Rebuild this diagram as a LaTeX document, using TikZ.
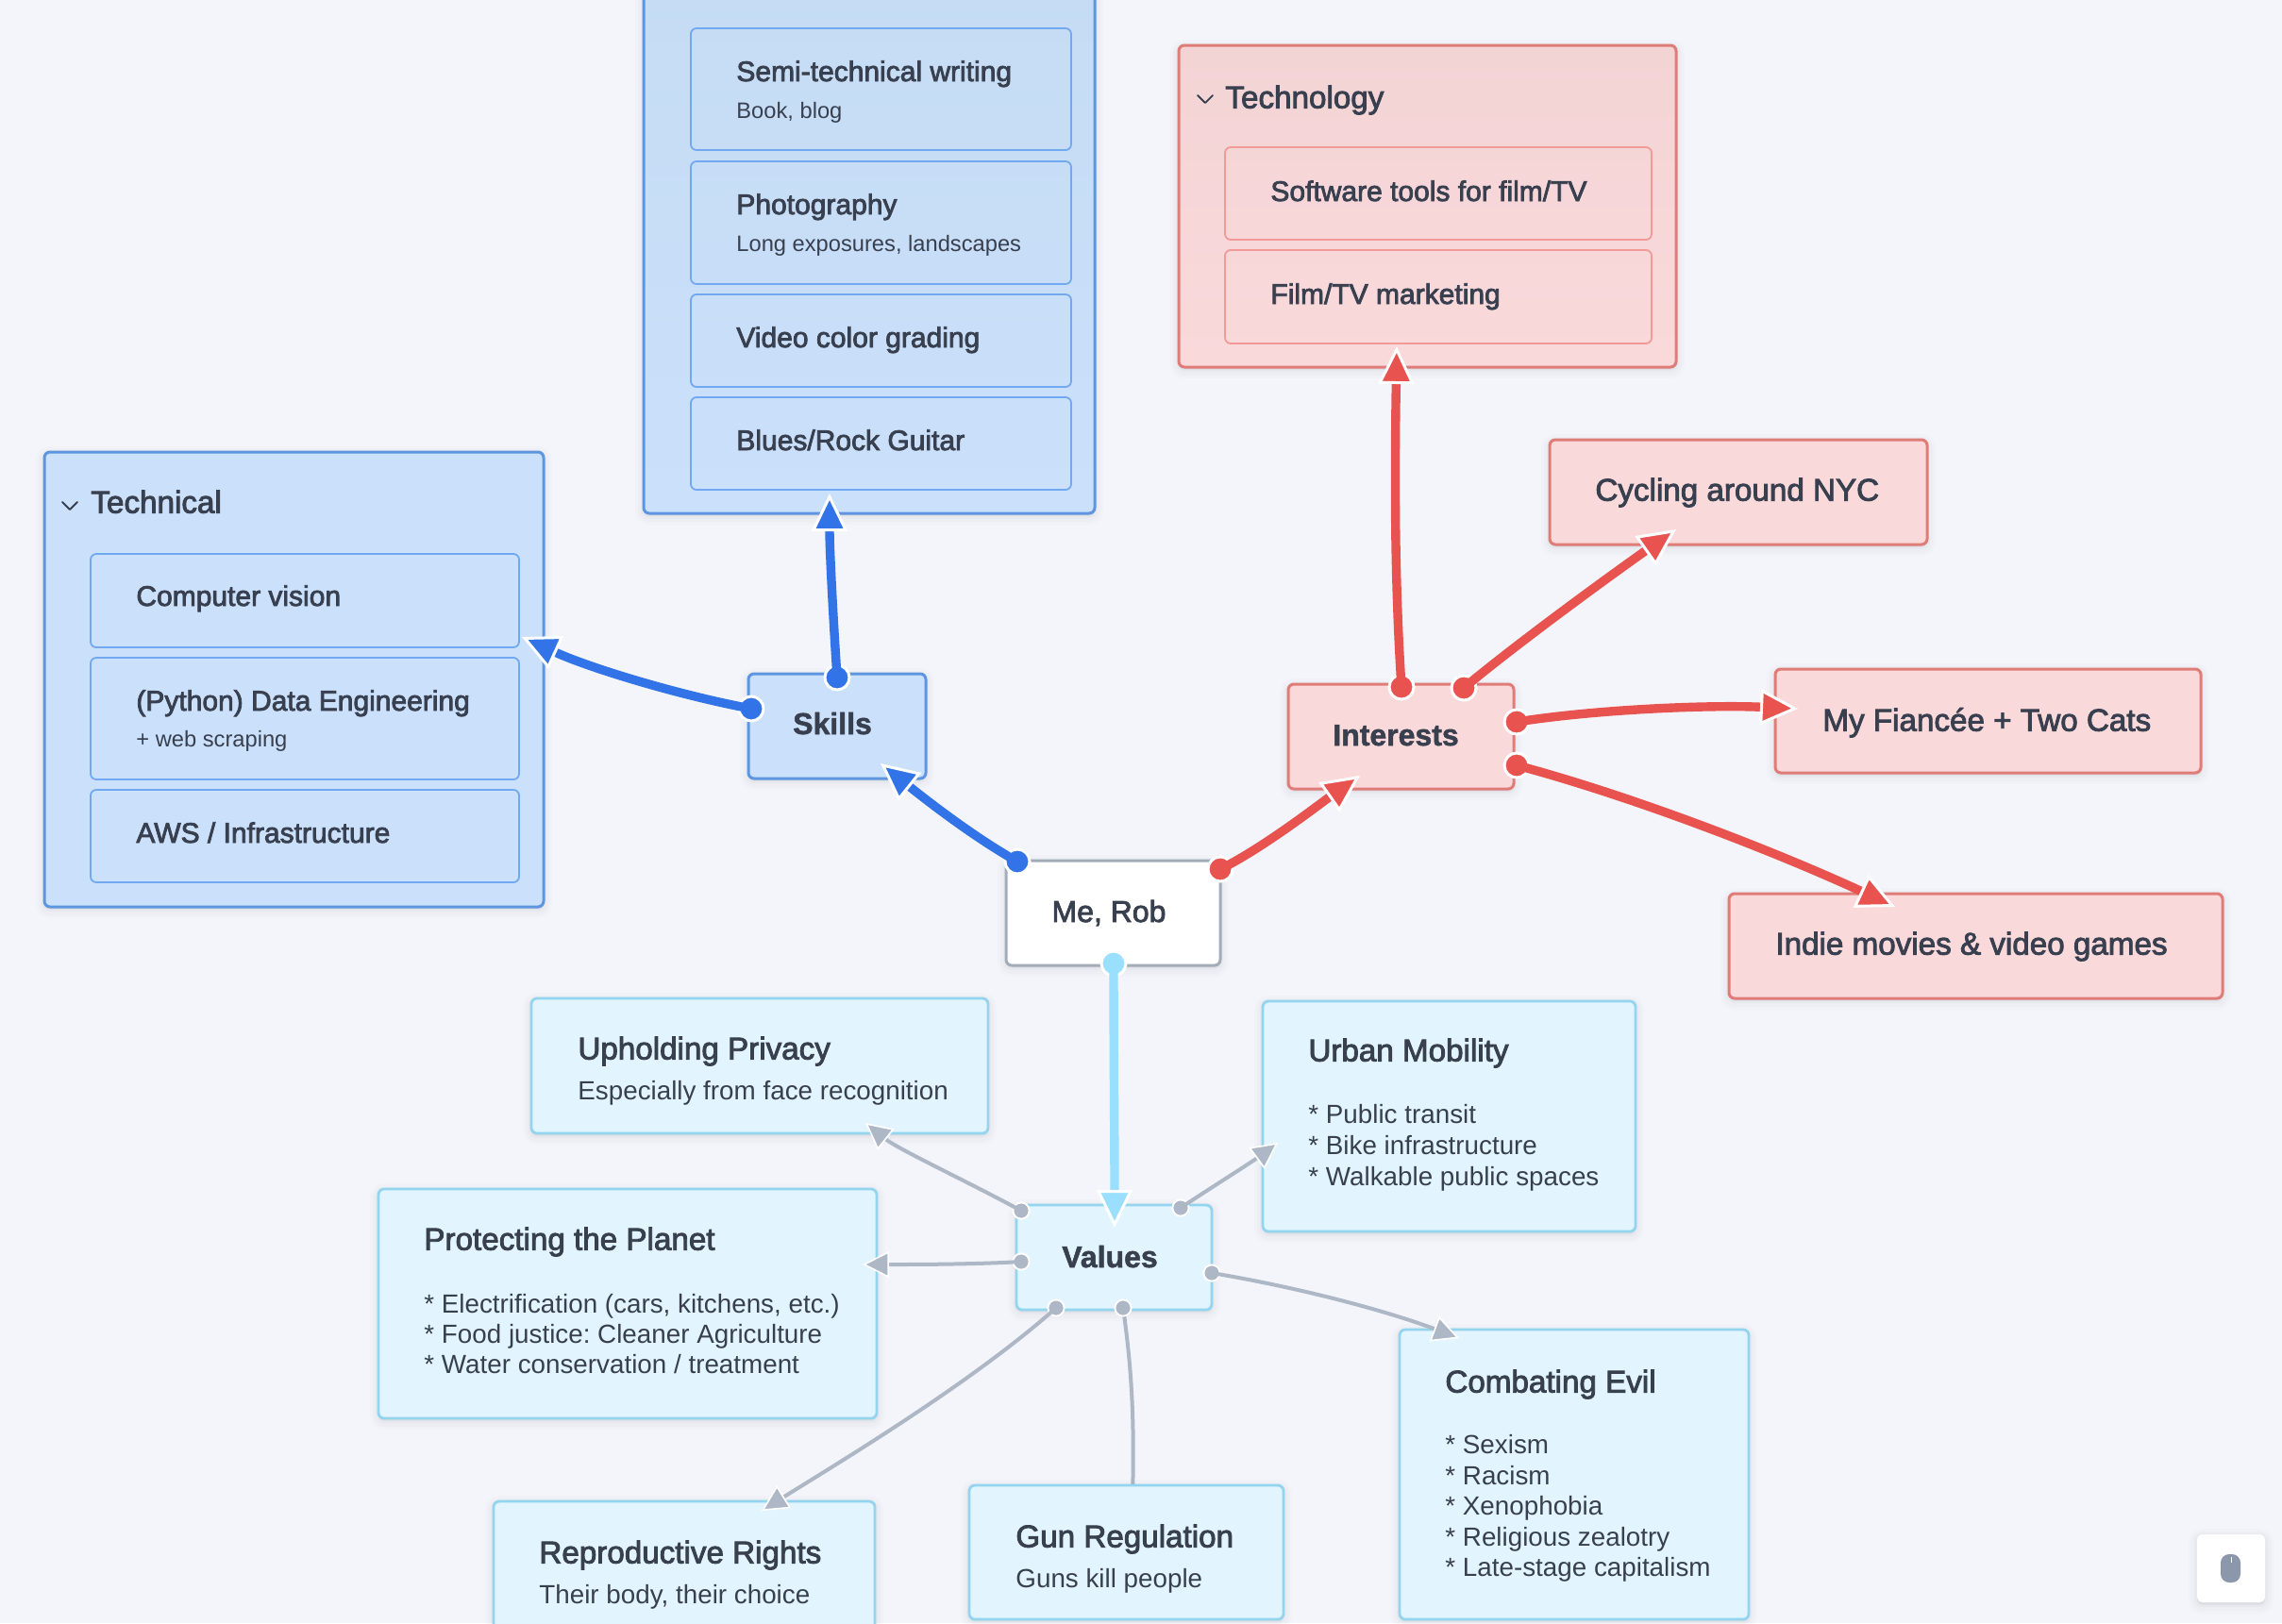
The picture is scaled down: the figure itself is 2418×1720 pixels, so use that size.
\documentclass[tikz,border=0pt]{standalone}
\usepackage{fontspec}
\setmainfont{Liberation Sans}
\newfontfamily\medfont[FakeBold=2.6]{Liberation Sans}
\newfontfamily\corefont[UprightFont={* Bold},FakeBold=1.5]{Liberation Sans}
\usetikzlibrary{arrows.meta,calc}
\definecolor{pagebg}{HTML}{F3F5FA}
\definecolor{ink}{HTML}{383F4E}
\definecolor{bluefill}{HTML}{CBE0FB}
\definecolor{bluetop}{HTML}{C5DCF4}
\definecolor{blueouter}{HTML}{5E95E0}
\definecolor{blueinner}{HTML}{72A8F0}
\definecolor{blueline}{HTML}{3274E8}
\definecolor{redfill}{HTML}{FAD9DB}
\definecolor{redtop}{HTML}{F3D4D5}
\definecolor{redouter}{HTML}{E07C78}
\definecolor{redinner}{HTML}{F29A96}
\definecolor{redline}{HTML}{E9534F}
\definecolor{valfill}{HTML}{E2F5FE}
\definecolor{valouter}{HTML}{93D5EF}
\definecolor{valline}{HTML}{9BDFFF}
\definecolor{greyline}{HTML}{AEB7C5}
\definecolor{meborder}{HTML}{A3ADBA}
\definecolor{mousegrey}{HTML}{8B97AB}
\tikzset{
  softshadow/.style={
    preaction={draw=black,fill=black,draw opacity=.012,fill opacity=.012,line width=9pt,transform canvas={yshift=-1.5pt}},
    preaction={draw=black,fill=black,draw opacity=.015,fill opacity=.015,line width=6pt,transform canvas={yshift=-1.5pt}},
    preaction={draw=black,fill=black,draw opacity=.02,fill opacity=.02,line width=3pt,transform canvas={yshift=-1pt}}},
  card/.style={rectangle,rounded corners=3pt,inner sep=0pt,softshadow},
  blueout/.style={card,fill=bluefill,draw=blueouter,line width=1.5pt},
  blueshade/.style={card,top color=bluetop,bottom color=bluefill,draw=blueouter,line width=1.5pt},
  bluein/.style={rectangle,rounded corners=3pt,inner sep=0pt,draw=blueinner,line width=.9pt},
  redout/.style={card,fill=redfill,draw=redouter,line width=1.5pt},
  redshade/.style={card,top color=redtop,bottom color=redfill,draw=redouter,line width=1.5pt},
  redin/.style={rectangle,rounded corners=3pt,inner sep=0pt,draw=redinner,line width=.9pt},
  valbox/.style={card,fill=valfill,draw=valouter,line width=1.4pt},
  mebox/.style={card,fill=white,draw=meborder,line width=1.5pt},
  mousebox/.style={card,fill=white,draw=none},
  lbl/.style={anchor=base west,inner sep=0pt,text=ink},
  ctr/.style={anchor=base,inner sep=0pt,text=ink},
  headbig/.style={lbl,yshift=.7pt,font=\medfont\frenchspacing\fontsize{16.6}{18}\selectfont},
  headitem/.style={lbl,font=\medfont\frenchspacing\fontsize{15}{18}\selectfont},
  sublbl/.style={lbl,font=\frenchspacing\fontsize{11.85}{14}\selectfont},
  bodylbl/.style={lbl,font=\frenchspacing\fontsize{13.9}{16.5}\selectfont},
  corelbl/.style={ctr,yshift=.5pt,font=\corefont\fontsize{16}{18}\selectfont},
  melbl/.style={ctr,yshift=.5pt,font=\medfont\fontsize{16}{18}\selectfont},
  bigdot/.style={circle,inner sep=0pt,minimum size=13pt,draw=white,line width=1.5pt,fill=#1},
  smalldot/.style={circle,inner sep=0pt,minimum size=8.6pt,draw=white,line width=1pt,fill=greyline},
  bigedge/.style={line width=4.7pt,draw=#1,-{Triangle[length=20pt,width=19pt,color=white,fill=#1,line width=1.5pt]}},
  smalledge/.style={line width=2pt,draw=greyline,-{Triangle[length=14pt,width=14pt,color=white,fill=greyline,line width=.8pt]}},
  chev/.style={draw=ink,line width=.9pt,line cap=round,line join=round}
}
% \rbox{style}{name}{left}{top}{right}{bottom}
\newcommand{\rbox}[6]{%
  \node[#1,minimum width={(#5-#3)*0.5pt},minimum height={(#6-#4)*0.5pt}] (#2) at ({(#3+#5)/2},{(#4+#6)/2}) {};}
\begin{document}
\begin{tikzpicture}[x=0.5pt,y=-0.5pt]
\useasboundingbox (0,0) rectangle (2418,1720);
\fill[pagebg] (0,0) rectangle (2418,1720);

% Arrow end points
\coordinate (tipSkills) at (933,809);
\coordinate (tipInterests) at (1441,822);
\coordinate (tipValues) at (1181,1301);
\coordinate (tipCreative) at (879,523);
\coordinate (tipTechnical) at (553,675);
\coordinate (tipTechnology) at (1480,367);
\coordinate (tipCycling) at (1776,561);
\coordinate (tipFiance) at (1905,751);
\coordinate (tipIndie) at (2008,961);
\coordinate (tipPrivacy) at (917,1190);
\coordinate (tipUrban) at (1354,1211);
\coordinate (tipPlanet) at (914,1340);
\coordinate (tipEvil) at (1546,1418);
\coordinate (tipRepro) at (807,1601);
\coordinate (endGun) at (1200,1590);

% Gun edge runs beneath its box
\coordinate (gunStart) at (1190,1386);
\draw[line width=2pt,draw=greyline] (gunStart) .. controls +(10,70) and +(2,-80) .. (endGun);

% Blue cards
\rbox{blueshade}{creative}{682}{-30}{1160}{544}
\rbox{bluein}{semi}{732}{30}{1135}{159}
\rbox{bluein}{photo}{732}{171}{1135}{301}
\rbox{bluein}{video}{732}{312}{1135}{410}
\rbox{bluein}{blues}{732}{421}{1135}{519}
\node[headitem] (semiT) at (780,86) {Semi-technical writing};
\node[sublbl] (semiS) at (780,125) {Book, blog};
\node[headitem] (photoT) at (780,227) {Photography};
\node[sublbl] (photoS) at (780,266) {Long exposures, landscapes};
\node[headitem] (videoT) at (780,368) {Video color grading};
\node[headitem] (bluesT) at (780,477) {Blues/Rock Guitar};

\rbox{blueout}{technical}{47}{479}{576}{961}
\rbox{bluein}{vision}{96}{587}{550}{686}
\rbox{bluein}{data}{96}{697}{550}{826}
\rbox{bluein}{aws}{96}{837}{550}{935}
\node[headbig] (technicalT) at (96,545) {Technical};
\draw[chev] (66,532) -- (74,540) -- (82,532);
\node[headitem] (visionT) at (144,642) {Computer vision};
\node[headitem] (dataT) at (144,753) {(Python) Data Engineering};
\node[sublbl] (dataS) at (144,791) {+ web scraping};
\node[headitem] (awsT) at (144,893) {AWS / Infrastructure};

\rbox{blueout}{skills}{793}{714}{981}{825}
\node[corelbl] (skillsT) at (882,779) {Skills};

% Red cards
\rbox{redshade}{technology}{1249}{48}{1776}{389}
\rbox{redin}{software}{1298}{156}{1750}{254}
\rbox{redin}{marketing}{1298}{265}{1750}{364}
\node[headbig] (technologyT) at (1298,116) {Technology};
\draw[chev] (1269,101) -- (1277,109) -- (1285,101);
\node[headitem] (softwareT) at (1346,213) {Software tools for film/TV};
\node[headitem] (marketingT) at (1346,322) {Film/TV marketing};

\rbox{redout}{interests}{1365}{725}{1604}{836}
\node[corelbl] (interestsT) at (1479,791) {Interests};
\rbox{redout}{cycling}{1642}{466}{2042}{577}
\node[headbig] (cyclingT) at (1690,532) {Cycling around NYC};
\rbox{redout}{fiance}{1881}{709}{2332}{819}
\node[headbig] (fianceT) at (1931,776) {My Fiancée + Two Cats};
\rbox{redout}{indie}{1832}{947}{2355}{1058}
\node[headbig] (indieT) at (1881,1013) {Indie movies \& video games};

% Root
\rbox{mebox}{me}{1066}{912}{1293}{1023}
\node[melbl] (meT) at (1175,978) {Me, Rob};

% Value cards
\rbox{valbox}{values}{1077}{1277}{1284}{1388}
\node[corelbl] (valuesT) at (1176,1344) {Values};
\rbox{valbox}{privacy}{563}{1058}{1047}{1201}
\node[headbig] (privacyT) at (612,1124) {Upholding Privacy};
\node[bodylbl] (privacyS) at (612,1165) {Especially from face recognition};
\rbox{valbox}{urban}{1338}{1061}{1733}{1305}
\node[headbig] (urbanT) at (1386,1126) {Urban Mobility};
\node[bodylbl] (urbanA) at (1386,1190) {* Public transit};
\node[bodylbl] (urbanB) at (1386,1223) {* Bike infrastructure};
\node[bodylbl] (urbanC) at (1386,1256) {* Walkable public spaces};
\rbox{valbox}{planet}{401}{1260}{929}{1503}
\node[headbig] (planetT) at (449,1326) {Protecting the Planet};
\node[bodylbl] (planetA) at (449,1391) {* Electrification (cars, kitchens, etc.)};
\node[bodylbl] (planetB) at (449,1423) {* Food justice: Cleaner Agriculture};
\node[bodylbl] (planetC) at (449,1455) {* Water conservation / treatment};
\rbox{valbox}{evil}{1483}{1409}{1853}{1716}
\node[headbig] (evilT) at (1531,1477) {Combating Evil};
\node[bodylbl] (evilA) at (1531,1540) {* Sexism};
\node[bodylbl] (evilB) at (1531,1573) {* Racism};
\node[bodylbl] (evilC) at (1531,1605) {* Xenophobia};
\node[bodylbl] (evilD) at (1531,1638) {* Religious zealotry};
\node[bodylbl] (evilE) at (1531,1670) {* Late-stage capitalism};
\rbox{valbox}{repro}{523}{1591}{927}{1760}
\node[headbig] (reproT) at (571,1658) {Reproductive Rights};
\node[bodylbl] (reproS) at (571,1699) {Their body, their choice};
\rbox{valbox}{gun}{1027}{1574}{1360}{1716}
\node[headbig] (gunT) at (1076,1641) {Gun Regulation};
\node[bodylbl] (gunS) at (1076,1682) {Guns kill people};

% Connector start dots
\node[bigdot=blueline] (dMeSkills) at (1078,913) {};
\node[bigdot=redline] (dMeInterests) at (1293,921) {};
\node[bigdot=valline] (dMeValues) at (1180,1021) {};
\node[bigdot=blueline] (dSkillsUp) at (887,718) {};
\node[bigdot=blueline] (dSkillsLeft) at (796,751) {};
\node[bigdot=redline] (dIntUp) at (1485,728) {};
\node[bigdot=redline] (dIntCycling) at (1551,729) {};
\node[bigdot=redline] (dIntFiance) at (1607,765) {};
\node[bigdot=redline] (dIntIndie) at (1607,811) {};
\node[smalldot] (dValPrivacy) at (1082,1283) {};
\node[smalldot] (dValUrban) at (1251,1280) {};
\node[smalldot] (dValPlanet) at (1082,1337) {};
\node[smalldot] (dValEvil) at (1284,1349) {};
\node[smalldot] (dValRepro) at (1119,1386) {};
\node[smalldot] (dValGun) at (1190,1386) {};

% Connectors
\draw[bigedge=blueline] (dMeSkills.center) .. controls +(-50,-28) and +(40,32) .. (tipSkills);
\draw[bigedge=redline] (dMeInterests.center) .. controls +(45,-22) and +(-40,28) .. (tipInterests);
\draw[bigedge=valline] (dMeValues.center) .. controls +(0,90) and +(0,-90) .. (tipValues);
\draw[bigedge=blueline] (dSkillsUp.center) .. controls +(-4,-60) and +(0,60) .. (tipCreative);
\draw[bigedge=blueline] (dSkillsLeft.center) .. controls +(-80,-15) and +(70,32) .. (tipTechnical);
\draw[bigedge=redline] (dIntUp.center) .. controls +(-8,-120) and +(-2,120) .. (tipTechnology);
\draw[bigedge=redline] (dIntCycling.center) .. controls +(60,-50) and +(-60,42) .. (tipCycling);
\draw[bigedge=redline] (dIntFiance.center) .. controls +(90,-14) and +(-90,-4) .. (tipFiance);
\draw[bigedge=redline] (dIntIndie.center) .. controls +(120,32) and +(-130,-60) .. (tipIndie);
\draw[smalledge] (dValPrivacy.center) .. controls +(-55,-30) and +(35,28) .. (tipPrivacy);
\draw[smalledge] (dValUrban.center) .. controls +(30,-20) and +(-30,22) .. (tipUrban);
\draw[smalledge] (dValPlanet.center) .. controls +(-50,3) and +(50,0) .. (tipPlanet);
\draw[smalledge] (dValEvil.center) .. controls +(90,15) and +(-80,-30) .. (tipEvil);
\draw[smalledge] (dValRepro.center) .. controls +(-90,80) and +(80,-50) .. (tipRepro);
% redraw dots over line ends
\foreach \d/\c in {dMeSkills/blueline,dMeInterests/redline,dMeValues/valline,dSkillsUp/blueline,dSkillsLeft/blueline,dIntUp/redline,dIntCycling/redline,dIntFiance/redline,dIntIndie/redline}
  \fill[\c] (\d) circle (5pt);
\foreach \d in {dValPrivacy,dValUrban,dValPlanet,dValEvil,dValRepro,dValGun}
  \fill[greyline] (\d) circle (3.6pt);

% Mouse button
\rbox{mousebox}{mouse}{2328}{1626}{2400}{1698}
\fill[mousegrey,rounded corners=4.5pt] (2353,1647) rectangle (2374,1677);
\draw[white,line width=.5pt] (2364,1650) -- (2364,1656);
\end{tikzpicture}
\end{document}
